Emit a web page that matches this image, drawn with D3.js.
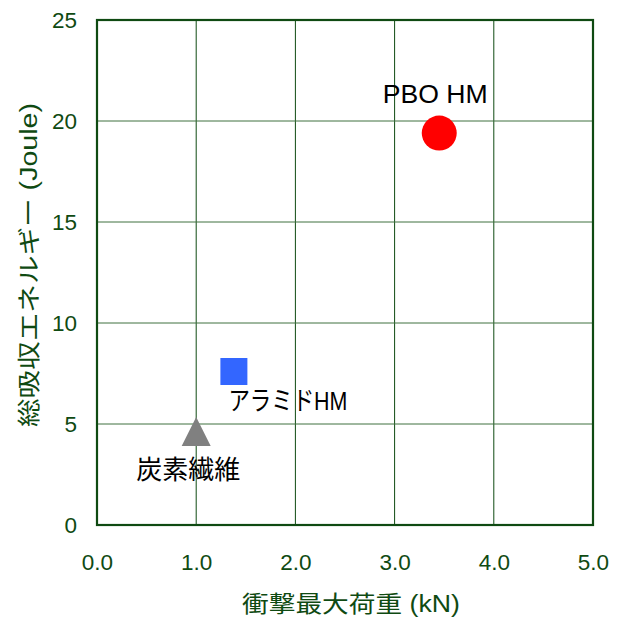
<!DOCTYPE html>
<html><head><meta charset="utf-8">
<script src="https://cdn.jsdelivr.net/npm/d3@7"></script>
<style>body{margin:0;background:#fff}</style>
</head><body>
<svg id="c" width="626" height="621"></svg>
<script>
const names = ["PBO HM", "アラミドHM", "炭素繊維"];
const loads = [3.45, 1.38, 1.0];
const energies = [19.4, 7.6, 4.63];
const shapes = ["circle", "square", "triangle"];
const colors = ["#ff0000", "#3366ff", "#808080"];
const xTicks = [0, 1, 2, 3, 4, 5];
const yTicks = [0, 5, 10, 15, 20, 25];
const xTitle = "衝撃最大荷重 (kN)";
const yTitle = "総吸収エネルギー (Joule)";

const green = "#0f4a12";
const font = "'Liberation Sans', Arial, 'Noto Sans CJK JP', sans-serif";
const svg = d3.select("#c");
const L = 97, R = 593, T = 20, B = 525;
const x = d3.scaleLinear().domain([0, 5]).range([L, R]);
const y = d3.scaleLinear().domain([0, 25]).range([B, T]);

// grid
svg.append("g").selectAll("line").data(xTicks.slice(1, -1)).join("line")
  .attr("x1", d => x(d)).attr("x2", d => x(d)).attr("y1", T).attr("y2", B)
  .attr("stroke", green).attr("stroke-width", 1);
svg.append("g").selectAll("line").data(yTicks.slice(1, -1)).join("line")
  .attr("y1", d => y(d)).attr("y2", d => y(d)).attr("x1", L).attr("x2", R)
  .attr("stroke", "#3f703f").attr("stroke-width", 1);
// frame
svg.append("rect").attr("x", L).attr("y", T).attr("width", R - L).attr("height", B - T)
  .attr("fill", "none").attr("stroke", green).attr("stroke-width", 2.2);

// axes labels via d3 axes
const xa = svg.append("g").attr("transform", `translate(0,${B})`)
  .call(d3.axisBottom(x).tickValues(xTicks).tickFormat(d3.format(".1f")).tickSize(0).tickPadding(29));
const ya = svg.append("g").attr("transform", `translate(${L},0)`)
  .call(d3.axisLeft(y).tickValues(yTicks).tickFormat(d3.format("d")).tickSize(0).tickPadding(20));
[xa, ya].forEach(a => {
  a.select(".domain").remove();
  a.selectAll("text").attr("fill", green).style("font-family", font).style("font-size", "22.5px");
});

// titles
svg.append("text").attr("x", 351).attr("y", 612).attr("text-anchor", "middle")
  .attr("fill", green).style("font-family", font).style("font-size", "23px")
  .attr("textLength", 218).attr("lengthAdjust", "spacingAndGlyphs").text(xTitle);
svg.append("text").attr("transform", "translate(37,265) rotate(-90)").attr("text-anchor", "middle")
  .attr("fill", green).style("font-family", font).style("font-size", "23px")
  .attr("textLength", 324).attr("lengthAdjust", "spacingAndGlyphs").text(yTitle);

// points
const pts = names.map((n, i) => ({n, x: loads[i], y: energies[i], s: shapes[i], c: colors[i]}));
function shapePath(s) {
  if (s === "circle") return d3.symbol(d3.symbolCircle, Math.PI * 17.5 * 17.5)();
  if (s === "square") return d3.symbol(d3.symbolSquare, 27 * 27)();
  const w = 14.5, h = 14.5;
  return `M0,${-h}L${w},${h}L${-w},${h}Z`;
}
svg.append("g").selectAll("path").data(pts).join("path")
  .attr("transform", d => `translate(${x(d.x)},${y(d.y)})`)
  .attr("d", d => shapePath(d.s))
  .attr("fill", d => d.c);

// labels
const labOff = {"PBO HM": [-4, -30], "アラミドHM": [54, 39], "炭素繊維": [-8, 48]};
const labLen = {"PBO HM": 105, "アラミドHM": 119, "炭素繊維": 104};
svg.append("g").selectAll("text").data(pts).join("text")
  .attr("x", d => x(d.x) + labOff[d.n][0]).attr("y", d => y(d.y) + labOff[d.n][1])
  .attr("text-anchor", "middle").attr("fill", "#000")
  .attr("textLength", d => labLen[d.n]).attr("lengthAdjust", "spacingAndGlyphs")
  .style("font-family", font).style("font-size", "26px").text(d => d.n);
</script>
</body></html>
